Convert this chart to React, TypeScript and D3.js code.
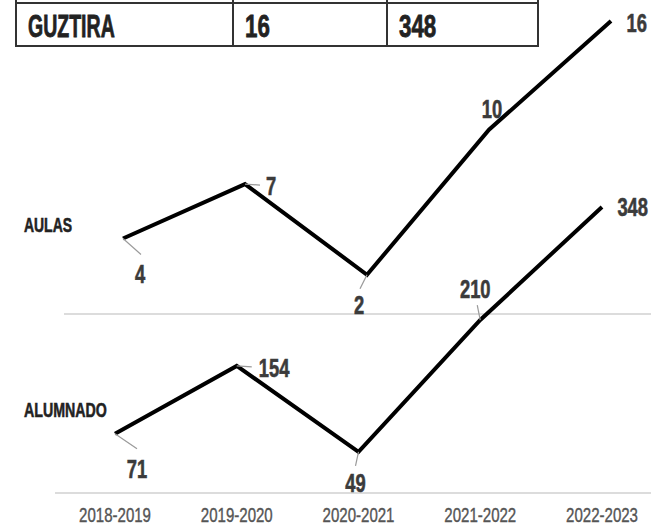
import React from "react";
import * as d3 from "d3";

const years = ["2018-2019", "2019-2020", "2020-2021", "2021-2022", "2022-2023"];
const aulas = [4, 7, 2, 10, 16];
const alumnado = [71, 154, 49, 210, 348];
const tableRow = ["GUZTIRA", "16", "348"];
const seriesNames = ["AULAS", "ALUMNADO"];

// label placement (offset from point, anchor, optional leader line end offset)
type Place = { dx: number; dy: number; anchor: string; lx?: number; ly?: number };
const aulasPlace: Place[] = [
  { dx: 17, dy: 44, anchor: "middle", lx: 18, ly: 16 },
  { dx: 21, dy: 11, anchor: "start", lx: 15, ly: 1 },
  { dx: -8, dy: 39, anchor: "middle", lx: -7, ly: 14 },
  { dx: 3, dy: -12, anchor: "middle" },
  { dx: 36, dy: 11, anchor: "end" },
];
const alumPlace: Place[] = [
  { dx: 22, dy: 44, anchor: "middle", lx: 22, ly: 15 },
  { dx: 22, dy: 11, anchor: "start", lx: 15, ly: 1 },
  { dx: -3, dy: 40, anchor: "middle", lx: -3, ly: 14 },
  { dx: -5, dy: -22, anchor: "middle", lx: -3, ly: -15 },
  { dx: 46, dy: 9, anchor: "end" },
];

const W = 651;
const H = 526;
const FONT = "'Liberation Sans Narrow', 'Liberation Sans', 'DejaVu Sans', sans-serif";

let ctx: CanvasRenderingContext2D | null = null;
function measure(text: string, size: number, weight: string): number {
  if (!ctx && typeof document !== "undefined") {
    ctx = document.createElement("canvas").getContext("2d");
  }
  if (!ctx) return text.length * size * 0.55;
  ctx.font = `${weight} ${size}px ${FONT}`;
  return ctx.measureText(text).width || text.length * size * 0.55;
}

// condensed text: horizontally scaled to a target width
function Cond(props: {
  x: number;
  y: number;
  text: string;
  size: number;
  weight?: string;
  width: number;
  anchor?: string;
  fill: string;
  heavy?: number;
}) {
  const weight = props.weight || "bold";
  const nat = measure(props.text, props.size, weight);
  const sx = props.width / nat;
  return (
    <text
      transform={`translate(${props.x},${props.y}) scale(${sx},1)`}
      textAnchor={props.anchor || "start"}
      fontFamily={FONT}
      fontWeight={weight}
      fontSize={props.size}
      fill={props.fill}
      stroke={props.fill}
      strokeWidth={props.heavy ?? 0.6}
    >
      {props.text}
    </text>
  );
}

export default function App() {
  const xA = d3.scalePoint<string>().domain(years).range([123, 611]);
  const xB = d3.scalePoint<string>().domain(years).range([115, 602]);
  const yA = d3.scaleLinear().domain([0, 16]).range([311, 21]);
  const yB = d3.scaleLinear().domain([0, 348]).range([492, 207]);

  const lineA = d3
    .line<number>()
    .x((_, i) => xA(years[i]) as number)
    .y((d) => yA(d));
  const lineB = d3
    .line<number>()
    .x((_, i) => xB(years[i]) as number)
    .y((d) => yB(d));

  const colX = [16, 233, 387, 538];
  const rowTop = 3;
  const rowBot = 46;

  const renderLabels = (
    vals: number[],
    places: Place[],
    xs: d3.ScalePoint<string>,
    ys: d3.ScaleLinear<number, number>,
    key: string
  ) =>
    vals.map((v, i) => {
      const px = xs(years[i]) as number;
      const py = ys(v);
      const p = places[i];
      const s = String(v);
      return (
        <g key={key + i}>
          {p.lx !== undefined && (
            <line
              x1={px}
              y1={py}
              x2={px + (p.lx as number)}
              y2={py + (p.ly as number)}
              stroke="#9a9a9a"
              strokeWidth={1.2}
            />
          )}
          <Cond
            x={px + p.dx}
            y={py + p.dy}
            text={s}
            size={25.5}
            width={s.length * 10.2}
            anchor={p.anchor}
            fill="#3b3b3b"
          />
        </g>
      );
    });

  return (
    <svg
      width={W}
      height={H}
      style={{ position: "absolute", left: 0, top: 0, background: "#fff" }}
    >
      {/* table */}
      <g>
        <rect x={colX[0]} y={-40} width={colX[3] - colX[0]} height={43} fill="none" stroke="#333" strokeWidth={2} />
        <rect x={colX[0]} y={rowTop} width={colX[3] - colX[0]} height={rowBot - rowTop} fill="#fff" stroke="#333" strokeWidth={2} />
        {[colX[1], colX[2]].map((cx) => (
          <line key={cx} x1={cx} x2={cx} y1={-40} y2={rowBot} stroke="#333" strokeWidth={2} />
        ))}
        {tableRow.map((t, i) => (
          <Cond key={t} x={colX[i] + 12} y={37} text={t} size={31} width={t.length * 12.4} fill="#222" heavy={0.8} />
        ))}
      </g>

      {/* separators */}
      <line x1={64} x2={W} y1={yA(0) + 3} y2={yA(0) + 3} stroke="#dcdcdc" strokeWidth={2} />
      <line x1={55} x2={W} y1={yB(0) + 1} y2={yB(0) + 1} stroke="#dcdcdc" strokeWidth={2} />

      {/* series names */}
      <Cond x={24} y={232} text={seriesNames[0]} size={21} width={48} fill="#222" />
      <Cond x={24} y={417} text={seriesNames[1]} size={21} width={83} fill="#222" />

      {/* lines */}
      <path d={lineA(aulas) as string} fill="none" stroke="#000" strokeWidth={4} strokeLinejoin="miter" />
      <path d={lineB(alumnado) as string} fill="none" stroke="#000" strokeWidth={4} strokeLinejoin="miter" />

      {renderLabels(aulas, aulasPlace, xA, yA, "a")}
      {renderLabels(alumnado, alumPlace, xB, yB, "b")}

      {/* x axis labels */}
      {years.map((yr) => (
        <Cond
          key={yr}
          x={xB(yr) as number}
          y={521.5}
          text={yr}
          size={21}
          weight="normal"
          width={72}
          anchor="middle"
          fill="#555"
          heavy={0.4}
        />
      ))}
    </svg>
  );
}
